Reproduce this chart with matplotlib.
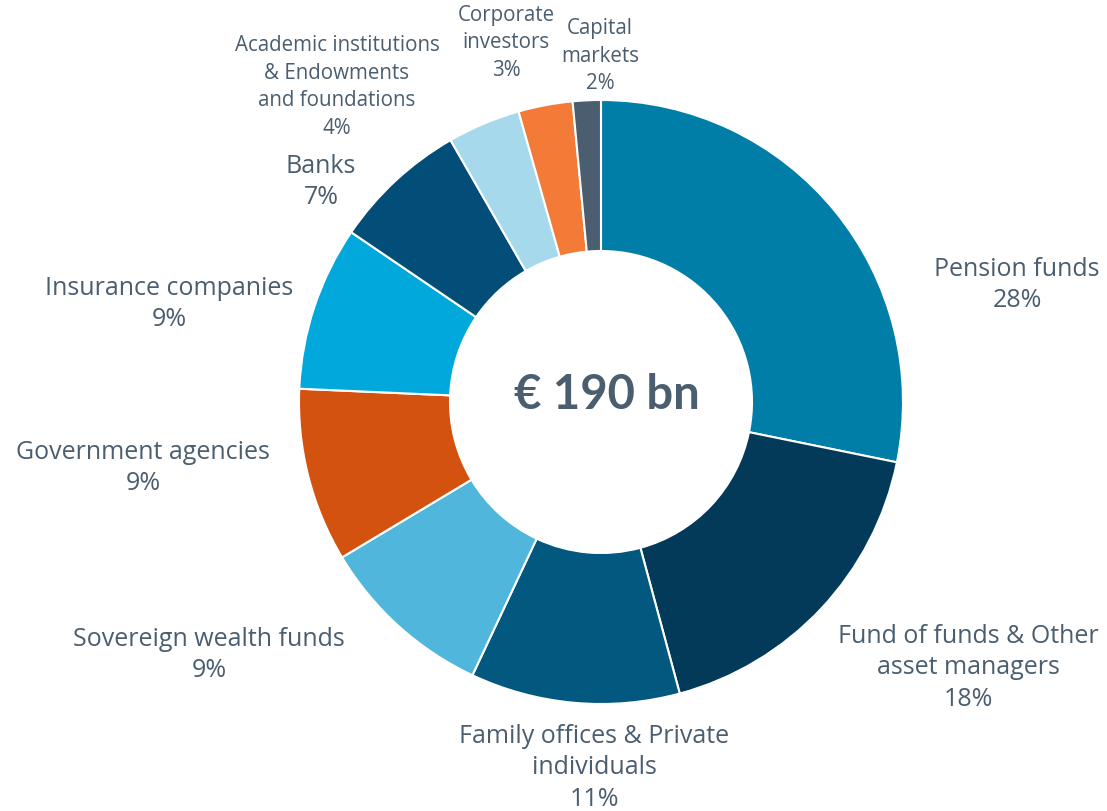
import matplotlib.pyplot as plt

# investor types (clockwise from 12 o'clock)
categories = ['Pension funds', 'Fund of funds & Other\nasset managers', 'Family offices & Private\nindividuals',
              'Sovereign wealth funds', 'Government agencies', 'Insurance companies', 'Banks',
              'Academic institutions\n& Endowments\nand foundations', 'Corporate\ninvestors', 'Capital\nmarkets']
shares = [28.2, 17.6, 11.2, 9.4, 9.3, 8.8, 7.2, 3.9, 2.9, 1.5]
pct_labels = ['28%', '18%', '11%', '9%', '9%', '9%', '7%', '4%', '3%', '2%']
total_label = '€ 190 bn'

colors = ['#007EA7', '#033A5A', '#02587F', '#51B6DB', '#D4520F',
          '#00A8DB', '#034E78', '#A6D9EC', '#F47B37', '#4B5E70']
txt_col = '#4B5E70'

# label centres in pixels (x, y from top), big or small text
label_pos = [(1017, 285), (968, 668), (594, 768), (209, 655), (143, 468),
             (169, 304), (321, 182), (337, 87), (506, 43), (600, 56)]
small = [False, False, False, False, False, False, False, True, True, True]

W, H = 1107, 811
fig = plt.figure(figsize=(W / 100, H / 100), dpi=100)
ax = fig.add_axes([0, 0, 1, 1])

ax.pie(shares, colors=colors, startangle=90, counterclock=False,
       center=(601, H - 402), radius=302,
       wedgeprops=dict(width=151, edgecolor='white', linewidth=1.5))

for cat, pct, (x, y), sm in zip(categories, pct_labels, label_pos, small):
    ax.text(x, H - y, cat + '\n' + pct, ha='center', va='center', multialignment='center',
            fontsize=14.8 if sm else 18, color=txt_col, family='Open Sans',
            linespacing=1.42 if sm else 1.36)

ax.text(607, H - 395, total_label, ha='center', va='center', fontsize=34,
        fontweight='bold', color=txt_col, family='Lato')

ax.set_xlim(0, W)
ax.set_ylim(0, H)
ax.set_aspect('equal')
ax.axis('off')

fig.savefig('out.png', dpi=100)
